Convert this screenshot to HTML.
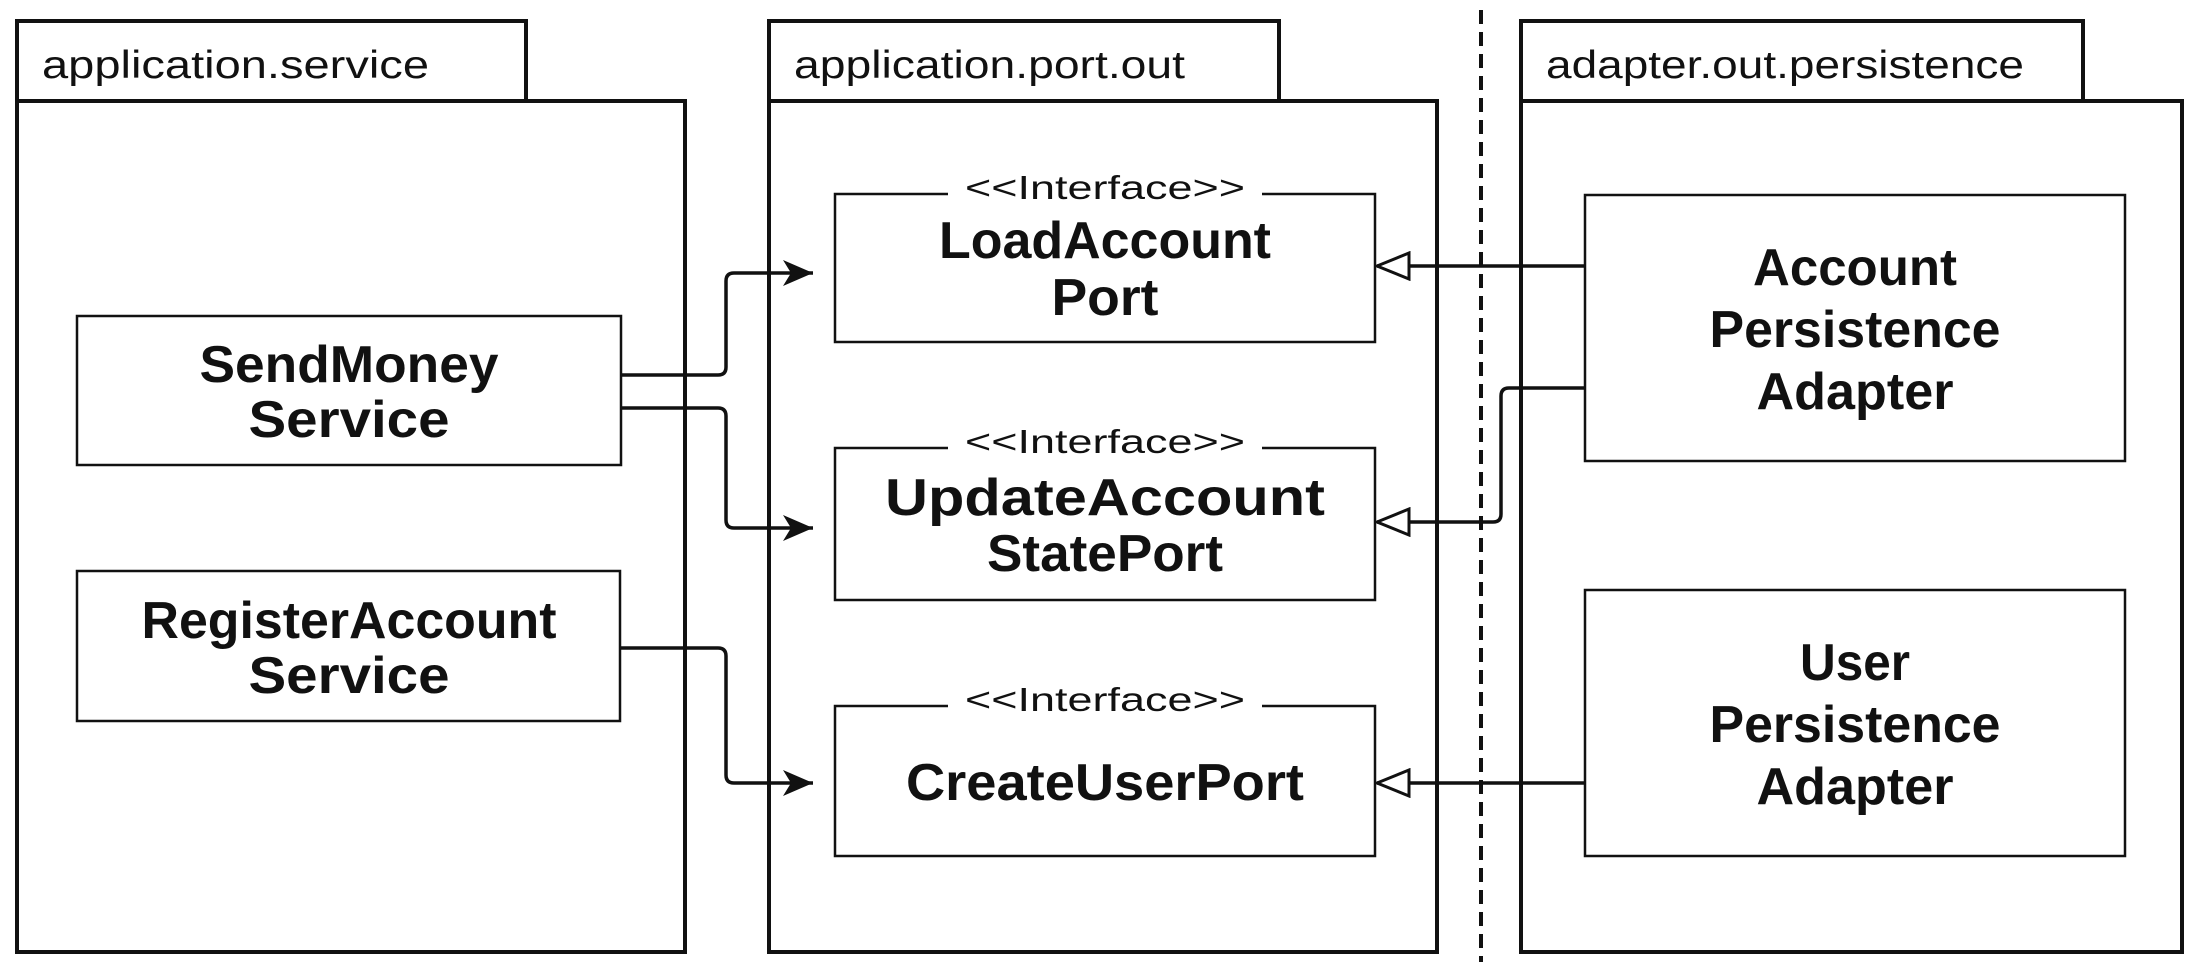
<!DOCTYPE html>
<html><head><meta charset="utf-8"><style>
html,body{margin:0;padding:0;background:#fff;width:2204px;height:964px;overflow:hidden}
svg text{font-family:"Liberation Sans",sans-serif;fill:#111}
.b{font-weight:bold;font-size:52px}
.p{font-size:39px}
.s{font-size:33px}
</style></head><body>
<svg width="2204" height="964" viewBox="0 0 2204 964" xmlns="http://www.w3.org/2000/svg">
<defs>
<marker id="fa" markerWidth="32" markerHeight="26" refX="30" refY="13" orient="auto" markerUnits="userSpaceOnUse"><path d="M0,0 L30,13 L0,26 L8,13 Z" fill="#111"/></marker>
<marker id="ha" markerWidth="36" markerHeight="30" refX="34" refY="15" orient="auto" markerUnits="userSpaceOnUse"><path d="M34,15 L2,2 L2,28 Z" fill="#fff" stroke="#111" stroke-width="3"/></marker>
</defs>
<g fill="none" stroke="#111" stroke-width="4">
<rect x="17" y="21" width="509" height="80"/><rect x="17" y="101" width="668" height="851"/>
<rect x="769" y="21" width="510" height="80"/><rect x="769" y="101" width="668" height="851"/>
<rect x="1521" y="21" width="562" height="80"/><rect x="1521" y="101" width="661" height="851"/>
<line x1="1481" y1="10" x2="1481" y2="962" stroke-dasharray="14 8"/>
</g>
<text class="p" x="42" y="78" textLength="387" lengthAdjust="spacingAndGlyphs">application.service</text>
<text class="p" x="794" y="78" textLength="391" lengthAdjust="spacingAndGlyphs">application.port.out</text>
<text class="p" x="1546" y="78" textLength="478" lengthAdjust="spacingAndGlyphs">adapter.out.persistence</text>
<g fill="#fff" stroke="#111" stroke-width="2.5">
<rect x="77" y="316" width="544" height="149"/>
<rect x="77" y="571" width="543" height="150"/>
<rect x="835" y="194" width="540" height="148"/>
<rect x="835" y="448" width="540" height="152"/>
<rect x="835" y="706" width="540" height="150"/>
<rect x="1585" y="195" width="540" height="266"/>
<rect x="1585" y="590" width="540" height="266"/>
</g>
<g fill="#fff">
<rect x="948" y="178" width="314" height="22"/>
<rect x="948" y="432" width="314" height="22"/>
<rect x="948" y="690" width="314" height="22"/>
</g>
<g text-anchor="middle">
<text class="s" x="1105" y="199" textLength="280" lengthAdjust="spacingAndGlyphs">&lt;&lt;Interface&gt;&gt;</text>
<text class="s" x="1105" y="453" textLength="280" lengthAdjust="spacingAndGlyphs">&lt;&lt;Interface&gt;&gt;</text>
<text class="s" x="1105" y="711" textLength="280" lengthAdjust="spacingAndGlyphs">&lt;&lt;Interface&gt;&gt;</text>
<text class="b" x="349" y="382" textLength="299" lengthAdjust="spacingAndGlyphs">SendMoney</text>
<text class="b" x="349" y="437" textLength="201" lengthAdjust="spacingAndGlyphs">Service</text>
<text class="b" x="349" y="638" textLength="415" lengthAdjust="spacingAndGlyphs">RegisterAccount</text>
<text class="b" x="349" y="693" textLength="201" lengthAdjust="spacingAndGlyphs">Service</text>
<text class="b" x="1105" y="258" textLength="332" lengthAdjust="spacingAndGlyphs">LoadAccount</text>
<text class="b" x="1105" y="315" textLength="107" lengthAdjust="spacingAndGlyphs">Port</text>
<text class="b" x="1105" y="515" textLength="440" lengthAdjust="spacingAndGlyphs">UpdateAccount</text>
<text class="b" x="1105" y="571" textLength="236" lengthAdjust="spacingAndGlyphs">StatePort</text>
<text class="b" x="1105" y="800" textLength="398" lengthAdjust="spacingAndGlyphs">CreateUserPort</text>
<text class="b" x="1855" y="285" textLength="204" lengthAdjust="spacingAndGlyphs">Account</text>
<text class="b" x="1855" y="347" textLength="291" lengthAdjust="spacingAndGlyphs">Persistence</text>
<text class="b" x="1855" y="409" textLength="197" lengthAdjust="spacingAndGlyphs">Adapter</text>
<text class="b" x="1855" y="680" textLength="110" lengthAdjust="spacingAndGlyphs">User</text>
<text class="b" x="1855" y="742" textLength="291" lengthAdjust="spacingAndGlyphs">Persistence</text>
<text class="b" x="1855" y="804" textLength="197" lengthAdjust="spacingAndGlyphs">Adapter</text>
</g>
<g fill="none" stroke="#111" stroke-width="3.5" stroke-linejoin="round">
<path d="M622,375 H718 Q726,375 726,367 V281 Q726,273 734,273 H813" marker-end="url(#fa)"/>
<path d="M622,408 H718 Q726,408 726,416 V520 Q726,528 734,528 H813" marker-end="url(#fa)"/>
<path d="M621,648 H718 Q726,648 726,656 V775 Q726,783 734,783 H813" marker-end="url(#fa)"/>
<path d="M1585,266 H1377" marker-end="url(#ha)"/>
<path d="M1585,388 H1509 Q1501,388 1501,396 V514 Q1501,522 1493,522 H1377" marker-end="url(#ha)"/>
<path d="M1585,783 H1377" marker-end="url(#ha)"/>
</g>
</svg>
</body></html>
